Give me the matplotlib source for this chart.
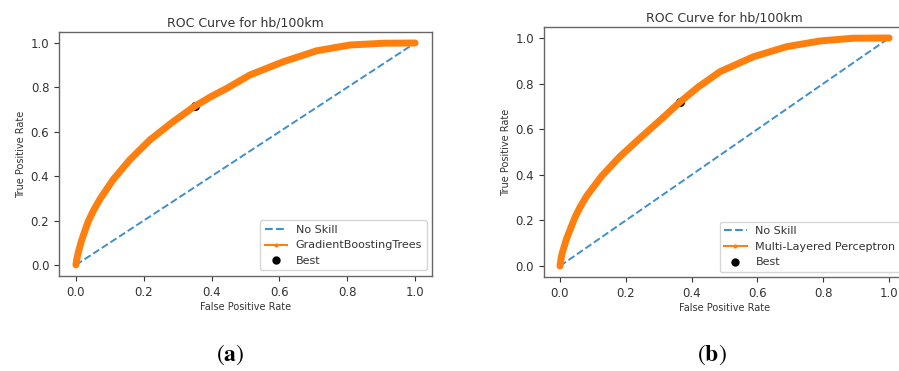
import matplotlib
matplotlib.use("Agg")
import matplotlib.pyplot as plt
from matplotlib.lines import Line2D

# ---- data ----
skill_x = [0, 1]
skill_y = [0, 1]

fpr_a = [0, 0.003, 0.007, 0.017, 0.036, 0.051, 0.071, 0.11, 0.159, 0.218, 0.287, 0.35, 0.40, 0.444, 0.513, 0.612, 0.71, 0.808, 0.906, 1.0]
tpr_a = [0, 0.03, 0.057, 0.112, 0.195, 0.243, 0.297, 0.385, 0.474, 0.563, 0.646, 0.715, 0.76, 0.795, 0.856, 0.916, 0.965, 0.991, 0.999, 1.0]
best_a = (0.35, 0.715)
label_a = "GradientBoostingTrees"

fpr_b = [0, 0.003, 0.007, 0.02, 0.046, 0.061, 0.081, 0.127, 0.182, 0.248, 0.314, 0.367, 0.42, 0.486, 0.588, 0.689, 0.79, 0.89, 1.0]
tpr_b = [0, 0.03, 0.058, 0.12, 0.215, 0.258, 0.307, 0.395, 0.48, 0.567, 0.652, 0.722, 0.785, 0.852, 0.918, 0.962, 0.987, 0.999, 1.0]
best_b = (0.365, 0.72)
label_b = "Multi-Layered Perceptron"

title = "ROC Curve for hb/100km"
ticks = [0.0, 0.2, 0.4, 0.6, 0.8, 1.0]

TXT = "#333333"
EDGE = "#666666"
BLUE = "#3f8fcc"
ORANGE = "#ff7f0e"

plt.rcParams["font.family"] = "DejaVu Sans"
plt.rcParams["mathtext.fontset"] = "stix"

fig = plt.figure(figsize=(8.99, 3.71), dpi=100)
axA = fig.add_axes([0.0656, 0.256, 0.415, 0.658])
axB = fig.add_axes([0.6046, 0.2523, 0.4027, 0.676])


def draw(ax, fpr, tpr, best, label):
    ax.plot(skill_x, skill_y, ls="--", color=BLUE, lw=1.4, zorder=2)
    ax.scatter([best[0]], [best[1]], s=30, color="black", zorder=2.5)
    ax.plot(fpr, tpr, color=ORANGE, lw=5.0,
            solid_joinstyle="round", solid_capstyle="round", zorder=3)
    ax.set_xlim(-0.05, 1.05)
    ax.set_ylim(-0.05, 1.05)
    ax.set_xticks(ticks)
    ax.set_yticks(ticks)
    ax.set_xticklabels([f"{t:.1f}" for t in ticks])
    ax.set_yticklabels([f"{t:.1f}" for t in ticks])
    ax.tick_params(labelsize=8.5, colors=TXT, length=3.5, width=0.8)
    for s in ax.spines.values():
        s.set_color(EDGE)
        s.set_linewidth(1.0)
    ax.set_title(title, fontsize=9, color=TXT, pad=4)
    ax.set_xlabel("False Positive Rate", fontsize=7, color=TXT, labelpad=2)
    ax.set_ylabel("True Positive Rate", fontsize=7, color=TXT, labelpad=3)
    handles = [
        Line2D([], [], ls="--", color=BLUE, lw=1.5),
        Line2D([], [], color=ORANGE, lw=1.5, marker=".", ms=4),
        Line2D([], [], ls="none", color="black", marker="o", ms=5),
    ]
    ax.legend(handles, ["No Skill", label, "Best"], loc="lower right",
              fontsize=8, labelcolor=TXT, framealpha=0.8)


draw(axA, fpr_a, tpr_a, best_a, label_a)
draw(axB, fpr_b, tpr_b, best_b, label_b)

fig.text(230 / 899, 1 - 355 / 371, r"$(\mathbf{a})$", ha="center", va="center", fontsize=17, color="black")
fig.text(712 / 899, 1 - 355 / 371, r"$(\mathbf{b})$", ha="center", va="center", fontsize=17, color="black")

fig.savefig("out.png", dpi=100)
